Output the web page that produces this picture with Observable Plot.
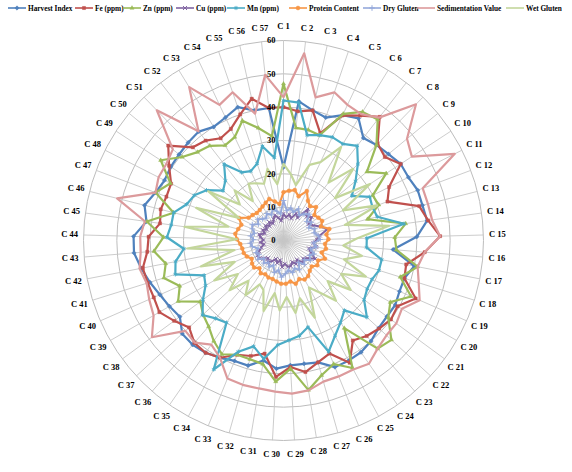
<!DOCTYPE html>
<html><head><meta charset="utf-8">
<script src="https://cdn.jsdelivr.net/npm/d3@7"></script>
<script src="https://cdn.jsdelivr.net/npm/@observablehq/plot@0.6"></script>
<style>
body{margin:0;background:#fff;width:572px;height:472px;overflow:hidden;font-family:"Liberation Serif",serif}
#legend{position:relative;height:16px;width:572px;overflow:hidden;font-weight:bold;font-size:7.3px;color:#000}
.item{position:absolute;top:3px;height:10px;display:flex;align-items:center;white-space:nowrap}
.item svg{margin-right:2px}
</style></head><body>
<div id="legend"></div><div id="chart"></div>
<script>
const categories = ["C 1","C 2","C 3","C 4","C 5","C 6","C 7","C 8","C 9","C 10","C 11","C 12","C 13","C 14","C 15","C 16","C 17","C 18","C 19","C 20","C 21","C 22","C 23","C 24","C 25","C 26","C 27","C 28","C 29","C 30","C 31","C 32","C 33","C 34","C 35","C 36","C 37","C 38","C 39","C 40","C 41","C 42","C 43","C 44","C 45","C 46","C 47","C 48","C 49","C 50","C 51","C 52","C 53","C 54","C 55","C 56","C 57"];
const tickValues = [0,10,20,30,40,50,60];
const seriesNames = ["Harvest Index","Fe (ppm)","Zn (ppm)","Cu (ppm)","Mn (ppm)","Protein Content","Dry Gluten","Sedimentation Value","Wet Gluten"];

const harvestIndex = [22,42,40,39,41.6,43,39,40,40.8,42,42,43,43,43.5,40,33,40,38,38,38.7,38.5,38.8,40,40.8,41,41,38,37.5,37.5,38.5,36.5,39,39,40,41,41.5,41.3,38.6,39.5,40.5,42,43.5,45,45,41.5,43,41,40,40.4,40.6,41,41.4,40,40.8,42.3,40,40];
const fe = [40,39,40,34,41.5,44,47,40.5,39.4,42,35.5,33.3,42,43.8,47,42.5,37.5,38,43.3,39.5,40,39,38,36.5,41.7,36.6,38,40,38,41,34.4,36,37,40,41,40.7,38.5,40.7,43,42.5,42.7,43,41,40.5,37.4,38,37.5,37.8,41,44.8,39,38,36,37,40,43.6,40];
const zn = [47,34,34,33.4,42,45.3,46,40,32.4,36.8,30,30.5,26,37,33.4,34,41,36.7,41.8,37,39,44,43,32,43.5,40,42,45.5,38.5,42.4,37.6,37,37,38.8,36.7,34.2,32.8,31,36.5,34,37.6,36,39,36,41.4,34,41,38,44,39.4,37,36,33.5,34.3,38,34.6,31.5];
const cu = [8,7,8,7,9,8,12,10,11,9,10,12,13.5,11,10,9,10,8,9,11,9,8,9,7,8,7,8,8,7,8,6,7,6,7,8,7,8,9,9,8,7,6,7,6,7,7.5,6,7,6,7,6,7,6,7,8,7,6];
const mn = [42,41.6,32.4,33.4,34.3,34,36,32,28,24.5,29,28.5,29,36.5,25,25,30,30,29,29,30,34,27.8,30,32.5,36,27,29,30,31.4,36,33,36,44,30,31,33,30,27,26,34,33,30,35,34,34,31,30,27.6,23.5,25,29,24,23,24.4,29,25];
const protein = [14.5,15,15.5,14,16.4,14,13,14,12,12.5,13,12,14.2,13,13.5,12.5,13,12,13.6,12,12.6,11.5,12,13,13.3,12.5,13.5,12.5,13,13,12.5,12,12,11.5,12,11,12,11.7,11,12,12.5,12.6,13,14,14.6,14,13.5,15,12.5,12,11.5,11.6,12,12.5,13.2,12,11];
const dryGluten = [12,9,10,9,10.5,9,10,11,9,10,8.5,10,9.5,10.5,11,9,10,8.5,10,9,10,8.5,9.5,8,10,9,10,9,10,11,9,10,8,9,8,9,8,9.5,8.5,9,8,9.5,10,9,10,9,10,10.5,9,10,9,8.5,9.5,8.5,10,9,8];
const sedimentation = [43,56.5,44,47,45,44.5,46.7,57,48,46,57.6,44.6,44.7,45,47,42.5,41,42.5,44.6,41,42,42,43,45,44,44,44,45.6,46,45.4,45,45,44.7,40,38,40.6,40,49,45,44,43,44,43,43,42,51.5,41,42,42,43,54.5,41.5,54,45,47,39,50];
const wetGluten = [23,20,17,24,26,33,22,30,20,31,20,30,19,32,22,18,24,19,27,20,25,18,24,19,16,25,18,22,17,21,16,22,16,15,20,16,22,17,24,16,26,15,29,14,30,17,28,15,27,17,21,15,20,19,18,22,17];

const seriesValues = [harvestIndex, fe, zn, cu, mn, protein, dryGluten, sedimentation, wetGluten];
const styles = [
  {color:"#4F81BD", symbol:"diamond2", w:2.2},
  {color:"#C0504D", symbol:"square2", w:2.2},
  {color:"#9BBB59", symbol:"triangle2", w:2.2},
  {color:"#8064A2", symbol:"times", w:1.9},
  {color:"#4BACC6", symbol:"asterisk", w:2.2},
  {color:"#F79646", symbol:"circle", w:2.2},
  {color:"#95A9DB", symbol:"plus", w:1.9},
  {color:"#DC9A9C", symbol:null, w:2.2},
  {color:"#C3D69B", symbol:null, w:2.2}
];

const N = categories.length;
const angle = d3.scaleLinear().domain([0, N]).range([0, 2 * Math.PI]);
const px = (v, i) => v * Math.sin(angle(i));
const py = (v, i) => v * Math.cos(angle(i));

const marks = [];
marks.push(Plot.dot(tickValues.slice(1), {x: () => 0, y: () => 0, r: d => d, stroke: "#bdbdbd", strokeWidth: 1, fill: "none"}));
marks.push(Plot.link(categories, {x1: () => 0, y1: () => 0, x2: (d, i) => px(60, i), y2: (d, i) => py(60, i), stroke: "#c6c6c6", strokeWidth: 0.9}));

seriesValues.forEach((vals, s) => {
  const st = styles[s];
  const rows = vals.map((v, i) => ({v, i}));
  const closed = rows.concat([rows[0]]);
  marks.push(Plot.line(closed, {x: d => px(d.v, d.i), y: d => py(d.v, d.i), stroke: st.color, strokeWidth: st.w, curve: "linear", strokeLinejoin: "round"}));
  if (st.symbol) {
    const filled = ["diamond2","square2","triangle2","circle"].includes(st.symbol);
    marks.push(Plot.dot(rows, {x: d => px(d.v, d.i), y: d => py(d.v, d.i), symbol: () => st.symbol, r: 2,
      fill: filled ? st.color : "none", stroke: st.color, strokeWidth: filled ? 0.4 : 0.9}));
  }
});

marks.push(Plot.text(tickValues, {x: () => 0, y: d => d, text: d => String(d), textAnchor: "end", dx: -8, fontWeight: "bold", fontSize: 8.5, fontFamily: "Liberation Serif", fill: "#000"}));
marks.push(Plot.text(categories, {x: (d, i) => px(64.2, i), y: (d, i) => py(64.2, i), text: d => d, fontWeight: "bold", fontSize: 8.5, fontFamily: "Liberation Serif", fill: "#000"}));

const chart = Plot.plot({
  width: 572, height: 456,
  margin: 0,
  x: {domain: [-60, 60], range: [83, 483], axis: null},
  y: {domain: [-60, 60], range: [424, 24], axis: null},
  r: {type: "linear", domain: [0, 60], range: [0, 200]},
  style: {background: "#fff", overflow: "visible"},
  marks
});
document.getElementById("chart").appendChild(chart);

const legendX = [8, 75, 123, 176, 227, 289, 363, 417, 506];
const legend = document.getElementById("legend");
seriesNames.forEach((name, s) => {
  const st = styles[s];
  const div = document.createElement("div");
  div.className = "item";
  div.style.left = legendX[s] + "px";
  const svg = d3.create("svg").attr("width", 18).attr("height", 8);
  svg.append("line").attr("x1", 0).attr("x2", 18).attr("y1", 4).attr("y2", 4).attr("stroke", st.color).attr("stroke-width", 1.6);
  if (st.symbol) {
    const symMap = {diamond2: d3.symbolDiamond2, square2: d3.symbolSquare2, triangle2: d3.symbolTriangle2, times: d3.symbolTimes, asterisk: d3.symbolAsterisk, circle: d3.symbolCircle, plus: d3.symbolPlus};
    const filled = ["diamond2","square2","triangle2","circle"].includes(st.symbol);
    svg.append("path").attr("transform", "translate(9,4)").attr("d", d3.symbol(symMap[st.symbol], 12)())
      .attr("fill", filled ? st.color : "none").attr("stroke", st.color).attr("stroke-width", filled ? 0.5 : 1);
  }
  div.appendChild(svg.node());
  const span = document.createElement("span");
  span.textContent = name;
  div.appendChild(span);
  legend.appendChild(div);
});
</script>
</body></html>
